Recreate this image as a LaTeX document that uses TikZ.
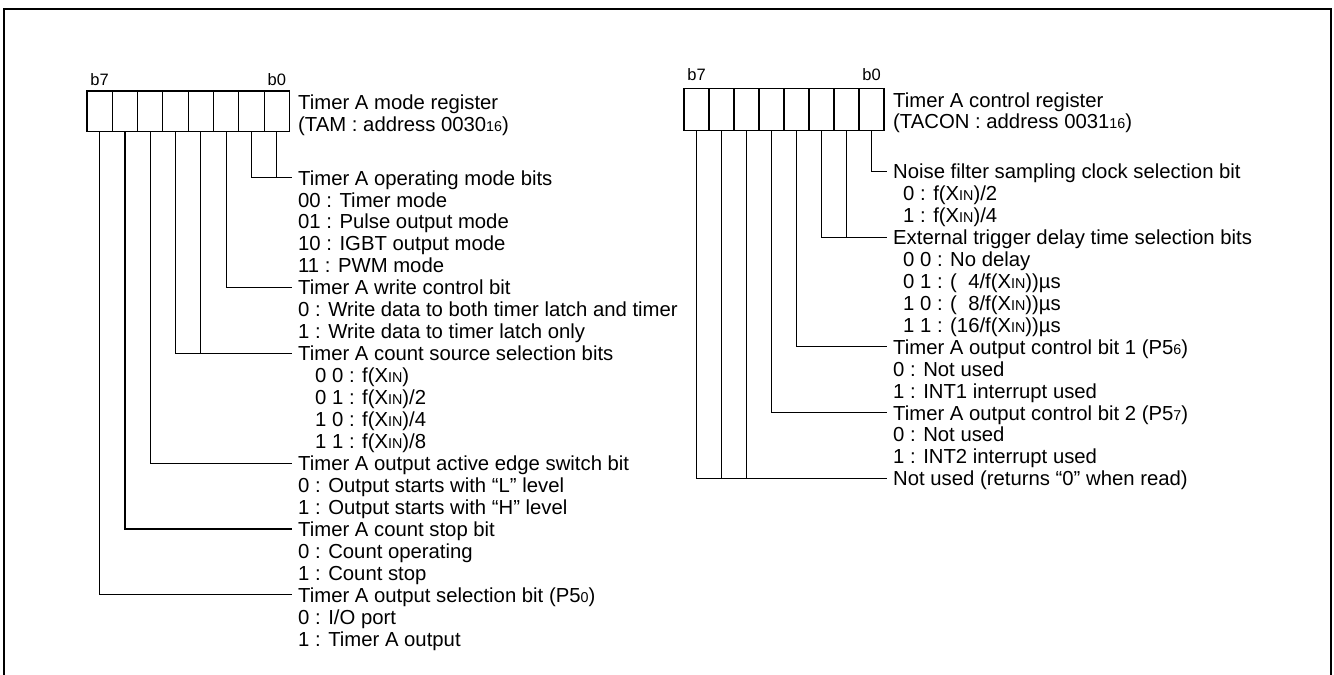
\documentclass[tikz,border=0pt]{standalone}
\usepackage{fontspec}
\setmainfont{Liberation Sans}
\usetikzlibrary{positioning}
\newcommand\sm[1]{{\fontsize{14.3}{14.3}\selectfont #1}}
\tikzset{
  cell style/.style={rectangle, draw, line width=1.1pt, inner sep=0pt,
    minimum width=25.31pt, minimum height=40.5pt},
  txt style/.style={anchor=west, inner xsep=0pt, inner ysep=0pt,
    text height=14.5pt, text depth=0pt, font=\fontsize{20.3}{23}\selectfont},
  hd style/.style={txt style, inner xsep=6pt},
  bit style/.style={inner sep=0pt, font=\fontsize{16.5}{16.5}\selectfont},
  wire style/.style={line width=1.1pt}
}

\begin{document}
\begin{tikzpicture}[x=1pt, y=-1pt]

\useasboundingbox (0,0) rectangle (1334,675);
\clip (0,0) rectangle (1334,675);
\draw[line width=2.2pt] (4,690) -- (4,9) -- (1331,9) -- (1331,690);

% TAM register
\foreach \b in {0,...,7}
  \node[cell style] (L\b) at ({87+25.31*(7.5-\b)},111.25) {};
\node[bit style, above=5pt of L7] (lb7) {b7};
\node[bit style, above=5pt of L0] (lb0) {b0};
\node[txt style] (lTitle) at (298,102.5) {Timer A mode register};
\node[txt style] (lAddr) at (298,124) {(TAM : address 0030\sm{16})};

\node[hd style] (lOp) at (292,177.8) {Timer A operating mode bits};
\node[txt style] at (298,199.8) {00 : Timer mode};
\node[txt style] at (298,221.7) {01 : Pulse output mode};
\node[txt style] at (298,243.7) {10 : IGBT output mode};
\node[txt style] at (298,265.6) {11 : PWM mode};
\node[hd style] (lWr) at (292,287.6) {Timer A write control bit};
\node[txt style] at (298,309.5) {0 : Write data to both timer latch and timer};
\node[txt style] at (298,331.5) {1 : Write data to timer latch only};
\node[hd style] (lSrc) at (292,353.4) {Timer A count source selection bits};
\node[txt style] at (315,375.4) {0 0 : f(X\sm{IN})};
\node[txt style] at (315,397.3) {0 1 : f(X\sm{IN})/2};
\node[txt style] at (315,419.3) {1 0 : f(X\sm{IN})/4};
\node[txt style] at (315,441.2) {1 1 : f(X\sm{IN})/8};
\node[hd style] (lEdge) at (292,463.2) {Timer A output active edge switch bit};
\node[txt style] at (298,485.1) {0 : Output starts with “L” level};
\node[txt style] at (298,507.1) {1 : Output starts with “H” level};
\node[hd style] (lStop) at (292,529.0) {Timer A count stop bit};
\node[txt style] at (298,551.0) {0 : Count operating};
\node[txt style] at (298,572.9) {1 : Count stop};
\node[hd style] (lSel) at (292,594.9) {Timer A output selection bit (P5\sm{0})};
\node[txt style] at (298,616.8) {0 : I/O port};
\node[txt style] at (298,638.8) {1 : Timer A output};

\draw[wire style] (L1.south) |- (lOp.west);
\draw[wire style] (L0.south) -- (L0.south |- lOp.west);
\draw[wire style] (L2.south) |- (lWr.west);
\draw[wire style] (L4.south) |- (lSrc.west);
\draw[wire style] (L3.south) -- (L3.south |- lSrc.west);
\draw[wire style] (L5.south) |- (lEdge.west);
\draw[wire style] (L6.south) |- (lStop.west);
\draw[wire style] (L7.south) |- (lSel.west);

% TACON register
\foreach \b in {0,...,7}
  \node[cell style, minimum width=25pt, minimum height=42pt] (R\b) at ({684+25*(7.5-\b)},109.5) {};
\node[bit style, above=7pt of R7] (rb7) {b7};
\node[bit style, above=7pt of R0] (rb0) {b0};
\node[txt style] (rTitle) at (893,100) {Timer A control register};
\node[txt style] (rAddr) at (893,121.5) {(TACON : address 0031\sm{16})};

\node[hd style] (rNoise) at (887,171.3) {Noise filter sampling clock selection bit};
\node[txt style] at (903,193.3) {0 : f(X\sm{IN})/2};
\node[txt style] at (903,215.2) {1 : f(X\sm{IN})/4};
\node[hd style] (rExt) at (887,237.2) {External trigger delay time selection bits};
\node[txt style] at (903,259.1) {0 0 : No delay};
\node[txt style] at (903,281.1) {0 1 : (\phantom{1}4/f(X\sm{IN}))µs};
\node[txt style] at (903,303.0) {1 0 : (\phantom{1}8/f(X\sm{IN}))µs};
\node[txt style] at (903,325.0) {1 1 : (16/f(X\sm{IN}))µs};
\node[hd style] (rCtl1) at (887,346.9) {Timer A output control bit 1 (P5\sm{6})};
\node[txt style] at (893,368.9) {0 : Not used};
\node[txt style] at (893,390.8) {1 : INT1 interrupt used};
\node[hd style] (rCtl2) at (887,412.8) {Timer A output control bit 2 (P5\sm{7})};
\node[txt style] at (893,434.7) {0 : Not used};
\node[txt style] at (893,456.7) {1 : INT2 interrupt used};
\node[hd style] (rNU) at (887,478.6) {Not used (returns “0” when read)};

\draw[wire style] (R0.south) |- (rNoise.west);
\draw[wire style] (R2.south) |- (rExt.west);
\draw[wire style] (R1.south) -- (R1.south |- rExt.west);
\draw[wire style] (R3.south) |- (rCtl1.west);
\draw[wire style] (R4.south) |- (rCtl2.west);
\draw[wire style] (R7.south) |- (rNU.west);
\draw[wire style] (R6.south) -- (R6.south |- rNU.west);
\draw[wire style] (R5.south) -- (R5.south |- rNU.west);

\end{tikzpicture}
\end{document}
